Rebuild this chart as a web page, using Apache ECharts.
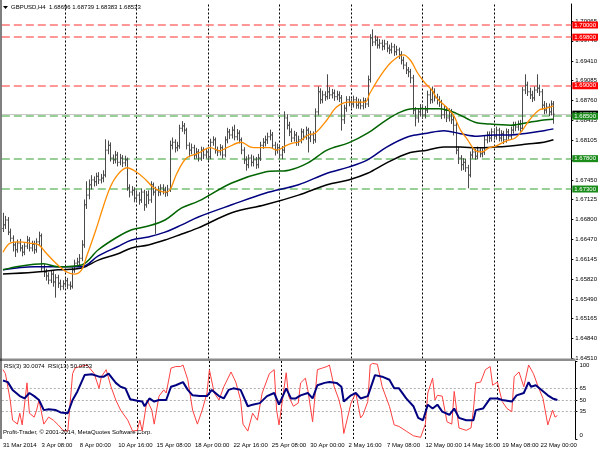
<!DOCTYPE html>
<html><head><meta charset="utf-8">
<script src="https://cdn.jsdelivr.net/npm/echarts@6/dist/echarts.min.js"></script>
<style>html,body{margin:0;padding:0;background:#fff}#c{width:600px;height:450px}</style>
</head><body><div id="c"></div>
<script>
// ---------- DATA ----------
const timeLabels = ['31 Mar 2014','3 Apr 08:00','8 Apr 00:00','10 Apr 16:00','15 Apr 08:00','18 Apr 00:00','22 Apr 16:00','25 Apr 08:00','30 Apr 00:00','2 May 16:00','7 May 08:00','12 May 00:00','14 May 16:00','19 May 08:00','22 May 00:00'];
const timeLabelBars = [0,16,32,48,64,80,96,112,128,144,160,176,192,208,224];
const weekSeparatorBars = [26,56,86,116,146,176,206];
const slotCount = 239;

const priceTicks = ['1.64510','1.64840','1.65165','1.65490','1.65820','1.66145','1.66470','1.66800','1.67125','1.67450','1.67780','1.68105','1.68435','1.68760','1.69085','1.69410','1.69740','1.70065'];
const resistance = [1.70000, 1.69800, 1.69000];
const support = [1.68500, 1.67800, 1.67300];
const bidPrice = 1.68533;

const firstOpen = 1.6665;
const closes = [
1.6671,1.6679,1.6659,1.6649,1.6638,1.6630,1.6641,1.6633,1.6626,1.6636,
1.6646,1.6633,1.6639,1.6630,1.6643,1.6653,1.6600,1.6593,1.6587,1.6580,
1.6590,1.6577,1.6584,1.6575,1.6570,1.6574,1.6579,1.6572,1.6570,1.6597,
1.6608,1.6610,1.6616,1.6638,1.6704,1.6720,1.6737,1.6745,1.6742,1.6751,
1.6745,1.6748,1.6753,1.6794,1.6802,1.6781,1.6778,1.6786,1.6774,1.6781,
1.6773,1.6778,1.6732,1.6725,1.6728,1.6715,1.6720,1.6712,1.6725,1.6704,
1.6720,1.6712,1.6737,1.6725,1.6728,1.6725,1.6732,1.6728,1.6724,1.6730,
1.6802,1.6807,1.6798,1.6801,1.6830,1.6834,1.6827,1.6802,1.6794,1.6798,
1.6786,1.6791,1.6781,1.6794,1.6786,1.6791,1.6783,1.6807,1.6811,1.6794,
1.6791,1.6798,1.6786,1.6811,1.6824,1.6819,1.6827,1.6816,1.6822,1.6811,
1.6794,1.6778,1.6770,1.6781,1.6774,1.6778,1.6770,1.6781,1.6802,1.6807,
1.6811,1.6816,1.6819,1.6802,1.6794,1.6798,1.6786,1.6794,1.6847,1.6835,
1.6824,1.6814,1.6819,1.6807,1.6811,1.6824,1.6817,1.6827,1.6814,1.6819,
1.6811,1.6857,1.6890,1.6877,1.6885,1.6882,1.6890,1.6885,1.6888,1.6882,
1.6885,1.6880,1.6844,1.6863,1.6877,1.6873,1.6870,1.6877,1.6868,1.6872,
1.6867,1.6875,1.6870,1.6910,1.6979,1.6972,1.6975,1.6967,1.6970,1.6965,
1.6969,1.6962,1.6959,1.6964,1.6956,1.6959,1.6951,1.6942,1.6934,1.6926,
1.6923,1.6913,1.6860,1.6847,1.6857,1.6863,1.6852,1.6860,1.6885,1.6877,
1.6890,1.6880,1.6877,1.6873,1.6852,1.6860,1.6847,1.6857,1.6844,1.6835,
1.6794,1.6781,1.6770,1.6774,1.6765,1.6753,1.6786,1.6791,1.6784,1.6794,
1.6788,1.6791,1.6811,1.6819,1.6814,1.6824,1.6817,1.6827,1.6814,1.6821,
1.6811,1.6824,1.6817,1.6827,1.6835,1.6832,1.6837,1.6830,1.6893,1.6901,
1.6890,1.6885,1.6880,1.6893,1.6896,1.6890,1.6868,1.6860,1.6865,1.6857,
1.6870,1.68533];
const highs = [
1.6690,1.6685,1.6683,1.6664,1.6653,1.6642,1.6646,1.6647,1.6637,1.6640,
1.6652,1.6650,1.6644,1.6644,1.6648,1.6659,1.6656,1.6606,1.6598,1.6592,
1.6596,1.6594,1.6589,1.6588,1.6580,1.6579,1.6583,1.6583,1.6577,1.6600,
1.6613,1.6616,1.6622,1.6645,1.6712,1.6742,1.6745,1.6752,1.6750,1.6756,
1.6757,1.6754,1.6760,1.6811,1.6809,1.6806,1.6786,1.6792,1.6790,1.6787,
1.6785,1.6784,1.6781,1.6737,1.6734,1.6732,1.6726,1.6724,1.6730,1.6728,
1.6726,1.6727,1.6742,1.6740,1.6733,1.6734,1.6737,1.6737,1.6733,1.6736,
1.6809,1.6814,1.6811,1.6807,1.6835,1.6841,1.6838,1.6830,1.6806,1.6804,
1.6802,1.6797,1.6795,1.6799,1.6798,1.6797,1.6795,1.6812,1.6816,1.6814,
1.6799,1.6803,1.6801,1.6816,1.6830,1.6828,1.6832,1.6835,1.6828,1.6826,
1.6814,1.6798,1.6783,1.6786,1.6786,1.6784,1.6782,1.6787,1.6807,1.6813,
1.6817,1.6822,1.6827,1.6823,1.6807,1.6804,1.6802,1.6800,1.6857,1.6852,
1.6840,1.6829,1.6825,1.6823,1.6817,1.6829,1.6828,1.6832,1.6830,1.6825,
1.6824,1.6862,1.6898,1.6895,1.6891,1.6890,1.6918,1.6897,1.6894,1.6893,
1.6891,1.6890,1.6884,1.6868,1.6882,1.6882,1.6878,1.6883,1.6881,1.6878,
1.6877,1.6880,1.6879,1.6916,1.6984,1.6992,1.6982,1.6980,1.6976,1.6975,
1.6975,1.6973,1.6967,1.6970,1.6968,1.6965,1.6962,1.6956,1.6947,1.6938,
1.6930,1.6927,1.6917,1.6864,1.6862,1.6869,1.6868,1.6866,1.6891,1.6894,
1.6898,1.6895,1.6886,1.6882,1.6876,1.6866,1.6865,1.6862,1.6861,1.6849,
1.6839,1.6799,1.6785,1.6780,1.6779,1.6769,1.6791,1.6796,1.6795,1.6799,
1.6798,1.6796,1.6817,1.6824,1.6824,1.6829,1.6829,1.6832,1.6830,1.6826,
1.6825,1.6829,1.6828,1.6832,1.6840,1.6840,1.6842,1.6843,1.6897,1.6918,
1.6906,1.6896,1.6891,1.6898,1.6918,1.6901,1.6894,1.6874,1.6871,1.6870,
1.6875,1.68739];
const lows = [
1.6660,1.6665,1.6655,1.6644,1.6628,1.6619,1.6626,1.6628,1.6620,1.6622,
1.6632,1.6628,1.6628,1.6624,1.6626,1.6638,1.6596,1.6586,1.6580,1.6574,
1.6576,1.6570,1.6552,1.6568,1.6564,1.6565,1.6569,1.6566,1.6565,1.6567,
1.6593,1.6602,1.6605,1.6612,1.6634,1.6698,1.6714,1.6730,1.6735,1.6736,
1.6739,1.6740,1.6742,1.6750,1.6788,1.6776,1.6772,1.6773,1.6768,1.6770,
1.6767,1.6768,1.6728,1.6717,1.6720,1.6709,1.6710,1.6705,1.6708,1.6695,
1.6700,1.6706,1.6708,1.6720,1.6657,1.6719,1.6720,1.6722,1.6718,1.6719,
1.6726,1.6796,1.6791,1.6793,1.6797,1.6825,1.6821,1.6796,1.6783,1.6788,
1.6780,1.6781,1.6776,1.6777,1.6780,1.6781,1.6777,1.6780,1.6802,1.6789,
1.6785,1.6786,1.6781,1.6783,1.6806,1.6813,1.6814,1.6811,1.6811,1.6806,
1.6788,1.6772,1.6761,1.6765,1.6768,1.6768,1.6764,1.6765,1.6777,1.6797,
1.6801,1.6805,1.6811,1.6797,1.6786,1.6789,1.6781,1.6780,1.6790,1.6829,
1.6818,1.6808,1.6809,1.6802,1.6802,1.6806,1.6811,1.6812,1.6791,1.6808,
1.6805,1.6807,1.6852,1.6871,1.6872,1.6876,1.6878,1.6879,1.6880,1.6876,
1.6877,1.6874,1.6827,1.6838,1.6858,1.6867,1.6864,1.6865,1.6863,1.6863,
1.6862,1.6862,1.6864,1.6866,1.6906,1.6966,1.6967,1.6962,1.6962,1.6959,
1.6960,1.6956,1.6953,1.6954,1.6950,1.6951,1.6945,1.6936,1.6928,1.6920,
1.6915,1.6905,1.6854,1.6834,1.6840,1.6850,1.6846,1.6847,1.6856,1.6871,
1.6872,1.6875,1.6870,1.6866,1.6846,1.6847,1.6841,1.6842,1.6838,1.6819,
1.6788,1.6772,1.6761,1.6762,1.6759,1.6732,1.6750,1.6781,1.6779,1.6780,
1.6783,1.6783,1.6787,1.6806,1.6808,1.6809,1.6812,1.6812,1.6809,1.6809,
1.6805,1.6807,1.6812,1.6813,1.6822,1.6826,1.6827,1.6825,1.6826,1.6887,
1.6884,1.6879,1.6874,1.6876,1.6889,1.6884,1.6862,1.6854,1.6855,1.6851,
1.6852,1.68383];

// moving averages: [bar, price]
const maOrange = [[0,1.6626],[3,1.6641],[7,1.6643],[11,1.6641],[15,1.6638],[18,1.6625],[23,1.6605],[27,1.6593],[30,1.6590],[33,1.6597],[35,1.6618],[39,1.6663],[42,1.6700],[45,1.6733],[48,1.6753],[52,1.6765],[56,1.6758],[60,1.6745],[63,1.6733],[68,1.6725],[70,1.6728],[73,1.6756],[77,1.6781],[82,1.6789],[87,1.6798],[91,1.6793],[94,1.6798],[100,1.6807],[104,1.6799],[107,1.6798],[112,1.6798],[115,1.6794],[119,1.6802],[122,1.6806],[124,1.6807],[128,1.6819],[131,1.6822],[136,1.6844],[140,1.6865],[145,1.6873],[149,1.6873],[152,1.6873],[154,1.6888],[158,1.6914],[163,1.6939],[168,1.6951],[171,1.6942],[174,1.6921],[177,1.6905],[180,1.6893],[182,1.6880],[186,1.6865],[189,1.6852],[192,1.6827],[195,1.6811],[198,1.6794],[201,1.6791],[204,1.6798],[207,1.6801],[211,1.6809],[215,1.6814],[218,1.6827],[221,1.6844],[225,1.6860],[228,1.6863],[231,1.6867]];
const maGreen = [[0,1.6597],[7,1.6603],[17,1.6607],[23,1.6602],[33,1.6605],[40,1.6630],[48,1.6651],[54,1.6663],[61,1.6669],[68,1.6679],[75,1.6699],[82,1.6710],[96,1.6740],[110,1.6758],[120,1.6761],[128,1.6773],[136,1.6794],[145,1.6806],[153,1.6822],[161,1.6844],[167,1.6857],[172,1.6862],[183,1.6862],[190,1.6855],[198,1.6840],[204,1.6837],[213,1.6835],[221,1.6840],[228,1.6844],[231,1.6845]];
const maNavy = [[0,1.6597],[13,1.6602],[23,1.6602],[33,1.6602],[40,1.6620],[48,1.6635],[54,1.6646],[61,1.6651],[68,1.6659],[75,1.6671],[82,1.6684],[96,1.6704],[110,1.6723],[124,1.6737],[136,1.6756],[145,1.6766],[153,1.6778],[161,1.6799],[170,1.6816],[178,1.6822],[185,1.6826],[192,1.6821],[199,1.6817],[206,1.6819],[213,1.6819],[220,1.6822],[227,1.6826],[231,1.6829]];
const maBlack = [[0,1.6590],[13,1.6593],[23,1.6597],[33,1.6600],[40,1.6613],[48,1.6623],[54,1.6633],[61,1.6638],[68,1.6646],[75,1.6656],[82,1.6666],[96,1.6691],[110,1.6704],[124,1.6720],[136,1.6737],[145,1.6745],[153,1.6756],[161,1.6773],[170,1.6789],[178,1.6794],[185,1.6799],[192,1.6799],[199,1.6798],[206,1.6799],[213,1.6801],[220,1.6804],[227,1.6807],[231,1.6811]];

// RSI: [bar, value]
const rsi3 = [[0,89],[1,84],[3,50],[4,24],[6,19],[7,33],[8,18],[10,72],[11,33],[13,28],[14,37],[15,50],[17,19],[19,28],[21,24],[23,18],[25,11],[27,10],[29,84],[30,91],[32,93],[35,95],[38,84],[40,65],[41,80],[43,89],[45,67],[47,50],[49,37],[52,24],[54,10],[56,11],[57,24],[58,10],[60,50],[62,37],[63,19],[65,55],[67,63],[68,59],[70,91],[72,93],[74,93],[75,95],[77,76],[79,37],[81,19],[83,37],[85,59],[86,89],[88,59],[90,50],[92,67],[95,86],[97,73],[99,50],[100,19],[102,10],[104,33],[106,24],[108,59],[111,84],[113,89],[114,37],[115,18],[118,85],[119,55],[121,42],[123,46],[124,72],[126,78],[127,63],[129,22],[131,89],[133,91],[135,93],[136,95],[138,67],[140,50],[141,37],[142,7],[145,46],[147,59],[149,27],[150,31],[152,48],[153,95],[154,97],[156,96],[158,67],[161,42],[163,18],[165,16],[168,10],[171,4],[174,2],[176,19],[177,59],[179,78],[180,50],[181,56],[183,55],[185,22],[187,19],[188,61],[190,14],[193,11],[195,14],[196,37],[197,72],[199,73],[201,89],[203,93],[204,69],[206,73],[208,48],[210,39],[212,35],[213,80],[215,86],[217,67],[219,95],[221,84],[223,67],[225,52],[227,18],[229,37],[230,28],[231,30]];
const rsi13 = [[0,75],[2,73],[4,63],[7,55],[9,52],[11,59],[13,55],[15,50],[17,37],[19,38],[22,37],[24,34],[27,33],[29,50],[31,61],[34,82],[37,83],[40,80],[42,80],[44,84],[47,72],[49,67],[51,65],[53,51],[56,49],[58,48],[59,42],[61,52],[63,48],[65,50],[68,50],[70,67],[72,69],[75,73],[77,63],[79,56],[82,55],[85,55],[87,63],[90,55],[92,52],[94,63],[96,65],[99,63],[102,42],[104,44],[107,46],[110,55],[113,59],[115,44],[118,65],[120,52],[122,52],[124,56],[127,59],[129,52],[131,69],[134,72],[136,73],[139,72],[141,67],[142,48],[145,56],[147,59],[149,52],[152,55],[154,73],[155,82],[158,80],[161,76],[163,65],[165,65],[168,52],[171,42],[173,27],[175,24],[177,44],[179,39],[181,44],[183,35],[186,31],[188,39],[190,27],[193,24],[196,24],[197,37],[200,39],[203,52],[206,52],[208,50],[212,48],[214,56],[217,59],[219,73],[220,67],[222,69],[227,56],[229,52],[231,50]];
const rsiLevels = [65, 50, 35];
const rsiAxisLabels = [0, 35, 50, 65, 100];

const headerText = 'GBPUSD,H4  1.68696 1.68739 1.68383 1.68533';
const rsiText = 'RSI(3) 30.0074  RSI(13) 50.0353';
const copyrightText = 'Profit-Trader, \u00a9 2001-2014, MetaQuotes Software Corp.';

// ---------- CHART ----------
const FONT = 'Liberation Sans';
const FS = 6;
const cats = [];
for (let i = 0; i < slotCount; i++) cats.push(String(i));
const labelAt = {};
timeLabelBars.forEach((b, k) => labelAt[b] = timeLabels[k]);

const ohlc = closes.map((c, i) => [i, i === 0 ? firstOpen : closes[i - 1], c, lows[i], highs[i]]);

function renderBar(params, api) {
  const i = api.value(0);
  const o = api.coord([i, api.value(1)]);
  const c = api.coord([i, api.value(2)]);
  const l = api.coord([i, api.value(3)]);
  const h = api.coord([i, api.value(4)]);
  const x = Math.round(o[0]) + 0.5;
  const st = { stroke: '#4a4a4a', lineWidth: 1 };
  return { type: 'group', children: [
    { type: 'line', shape: { x1: x, y1: h[1] - 0.5, x2: x, y2: l[1] + 0.5 }, style: st },
    { type: 'line', shape: { x1: x - 1.2, y1: o[1], x2: x, y2: o[1] }, style: st },
    { type: 'line', shape: { x1: x, y1: c[1], x2: x + 1.2, y2: c[1] }, style: st }
  ]};
}

const boxLabel = (text, bg) => ({ show: true, position: 'end', distance: 1, formatter: text, color: '#fff', backgroundColor: bg, padding: [1, 2, 0, 2], fontFamily: FONT, fontSize: FS });
const levelLine = (v, col, boxCol) => ({ yAxis: v, lineStyle: { color: col, type: [8, 4], width: 1.5 }, label: boxLabel(v.toFixed(5), boxCol) });
const vSep = (b) => ({ xAxis: b, lineStyle: { color: '#000', type: [2, 2], width: 1 }, label: { show: false } });

const maSeries = (data, color, w) => ({
  type: 'line', xAxisIndex: 0, yAxisIndex: 0, data: data, showSymbol: false, smooth: 0.35,
  lineStyle: { color: color, width: w }, silent: true, z: 4, animation: false
});

const chart = echarts.init(document.getElementById('c'), null, { renderer: 'canvas' });
chart.setOption({
  animation: false,
  backgroundColor: '#ffffff',
  grid: [
    { left: 1.8, top: 4, width: 573.6, height: 354.5 },
    { left: 1.8, top: 361.1, width: 573.6, height: 77.8 }
  ],
  xAxis: [
    { type: 'category', gridIndex: 0, data: cats, boundaryGap: true, axisLine: { show: false }, axisTick: { show: false }, axisLabel: { show: false }, splitLine: { show: false } },
    { type: 'category', gridIndex: 1, data: cats, boundaryGap: true, axisLine: { show: false },
      axisTick: { show: false },
      axisLabel: { show: true, interval: (idx) => labelAt[idx] !== undefined, formatter: (v) => labelAt[+v] || '', align: 'left', margin: 3, fontFamily: FONT, fontSize: FS, color: '#000', hideOverlap: false, showMaxLabel: true },
      splitLine: { show: false } }
  ],
  yAxis: [
    { type: 'value', gridIndex: 0, position: 'right', min: 1.64510, max: 1.70346, scale: true,
      axisLine: { show: true, lineStyle: { color: '#000', width: 1 } },
      axisTick: { show: true, length: 2, lineStyle: { color: '#000' }, customValues: priceTicks.map(Number) },
      axisLabel: { show: true, margin: 4, fontFamily: FONT, fontSize: FS, color: '#000', customValues: priceTicks.map(Number), formatter: (v) => v.toFixed(5) },
      splitLine: { show: false } },
    { type: 'value', gridIndex: 1, position: 'right', min: 0, max: 100,
      axisLine: { show: true, lineStyle: { color: '#000', width: 1 } },
      axisTick: { show: true, length: 2, lineStyle: { color: '#000' }, customValues: rsiAxisLabels },
      axisLabel: { show: true, margin: 4, fontFamily: FONT, fontSize: FS, color: '#000', customValues: rsiAxisLabels,
        formatter: (v) => v === 100 ? '{t|100}' : (v === 0 ? '{b|0}' : String(v)),
        rich: { t: { padding: [8, 0, 0, 0], fontFamily: FONT, fontSize: FS, color: '#000' }, b: { padding: [0, 0, 8, 0], fontFamily: FONT, fontSize: FS, color: '#000' } } },
      splitLine: { show: false } }
  ],
  series: [
    { type: 'line', name: 'levels', xAxisIndex: 0, yAxisIndex: 0, data: maBlack, showSymbol: false, smooth: 0.35,
      lineStyle: { opacity: 0 }, silent: true, z: 1,
      markLine: { silent: true, symbol: ['none', 'none'], animation: false, z: 1, precision: 5,
        data: [
          ...weekSeparatorBars.map(vSep),
          { yAxis: bidPrice, lineStyle: { color: '#c8c8c8', type: 'solid', width: 1 }, label: boxLabel(bidPrice.toFixed(5), '#000') },
          ...resistance.map(v => levelLine(v, '#ff7575', '#ff0000')),
          ...support.map(v => levelLine(v, '#75c075', '#1a8c1a'))
        ] } },
    { type: 'custom', name: 'bars', xAxisIndex: 0, yAxisIndex: 0, renderItem: renderBar, data: ohlc,
      encode: { x: 0, y: [1, 2, 3, 4] }, clip: true, z: 3 },
    maSeries(maBlack, '#000000', 1.5),
    maSeries(maNavy, '#000080', 1.5),
    maSeries(maGreen, '#006400', 1.5),
    maSeries(maOrange, '#ff8c00', 1.3),
    { type: 'line', xAxisIndex: 1, yAxisIndex: 1, data: rsi3, showSymbol: false, smooth: false,
      lineStyle: { color: '#ff4040', width: 1 }, silent: true, animation: false, clip: true,
      markLine: { silent: true, symbol: ['none', 'none'], animation: false, z: 1, precision: 5,
        data: [
          ...weekSeparatorBars.map(vSep),
          ...rsiLevels.map(v => ({ yAxis: v, lineStyle: { color: '#b0b0b0', type: [2, 2], width: 1 }, label: { show: false } }))
        ] } },
    { type: 'line', xAxisIndex: 1, yAxisIndex: 1, data: rsi13, showSymbol: false, smooth: false,
      lineStyle: { color: '#000080', width: 2 }, silent: true, animation: false, clip: true }
  ],
  graphic: [
    { type: 'rect', shape: { x: 0, y: 358.6, width: 575.4, height: 2.4 }, style: { fill: '#8c8c8c' }, z: 10 },
    { type: 'line', shape: { x1: 1, y1: 0, x2: 1, y2: 439 }, style: { stroke: '#000', lineWidth: 1 }, z: 10 },
    { type: 'polygon', shape: { points: [[3, 6], [8, 6], [5.5, 9]] }, style: { fill: '#000' }, z: 10 },
    { type: 'text', x: 11, y: 4.5, style: { text: headerText, fontFamily: FONT, fontSize: FS, fill: '#000' }, z: 10 },
    { type: 'text', x: 4, y: 363, style: { text: rsiText, fontFamily: FONT, fontSize: FS, fill: '#000' }, z: 10 },
    { type: 'text', x: 3, y: 429, style: { text: copyrightText, fontFamily: FONT, fontSize: FS, fill: '#000' }, z: 10 }
  ]
});
</script></body></html>
